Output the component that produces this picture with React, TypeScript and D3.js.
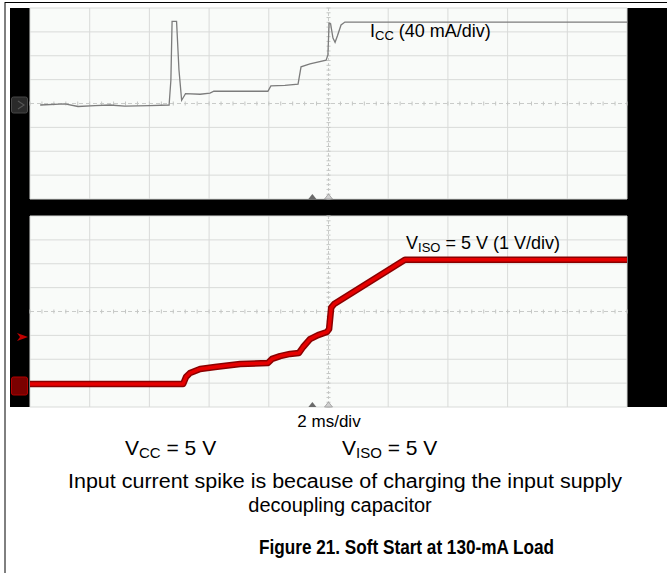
import React from 'react';
import * as d3 from 'd3';

const W = 667, H = 573;

// I_CC trace: time (ms from left edge of screen), current (mA)
const icTime = [0.34, 1.17, 1.61, 2.18, 2.68, 3.18, 4.02, 4.66, 4.72, 4.76, 4.91, 4.99, 5.08, 5.14, 5.21, 5.7, 6.03, 6.16, 7.04, 7.97, 8.07, 8.54, 8.98, 9.08, 9.38, 9.92, 9.98, 10.02, 10.07, 10.15, 10.22, 10.3, 10.42, 10.55, 20];
const icValue = [0, 2, -2.5, -1, 0, -2, -1, 0, 42, 140, 140, 59, 8, 13, 19, 18, 20, 23, 23, 23, 32, 33, 35, 64, 69, 75, 84, 137, 136, 112, 105, 116, 134, 139, 139];

// V_ISO trace: time (ms), voltage (V)
const vTime = [0, 5.13, 5.23, 5.36, 5.7, 6.2, 7.04, 7.97, 8.11, 8.38, 8.71, 9.01, 9.15, 9.38, 9.65, 9.95, 10.02, 10.09, 10.19, 12.56, 20];
const vValue = [0, 0, 0.3, 0.46, 0.63, 0.71, 0.84, 0.88, 1.05, 1.17, 1.26, 1.3, 1.55, 1.88, 2.05, 2.18, 2.3, 3.2, 3.35, 5.2, 5.2];

const xDivs = d3.range(0, 11);
const yDivs = d3.range(0, 9);

const font = 'Liberation Sans, Arial, Helvetica, sans-serif';

const plotL = 30, plotR = 627;
const plots = [{ top: 8, bottom: 199 }, { top: 216, bottom: 407 }];

const Grid = ({ top, bottom }: { top: number; bottom: number }) => {
  const gx = d3.scaleLinear().domain([0, 10]).range([plotL, plotR]);
  const gy = d3.scaleLinear().domain([0, 8]).range([top, bottom]);
  const cx = gx(5), cy = gy(4);
  const minorX = d3.range(0, 50.01, 1).map(d => gx(d / 5));
  const minorY = d3.range(0, 40.01, 1).map(d => gy(d / 5));
  return (
    <g>
      <rect x={plotL} y={top} width={plotR - plotL} height={bottom - top} fill="#f9fbf9" />
      {xDivs.filter(d => d !== 5).map(d => (
        <line key={'vx' + d} x1={gx(d)} x2={gx(d)} y1={top} y2={bottom} stroke="#d9dbd9" strokeWidth={1} />
      ))}
      {yDivs.filter(d => d !== 4).map(d => (
        <line key={'hy' + d} x1={plotL} x2={plotR} y1={gy(d)} y2={gy(d)} stroke="#d9dbd9" strokeWidth={1} />
      ))}
      <line x1={plotL} x2={plotR} y1={cy} y2={cy} stroke="#c9cbc9" strokeWidth={1} strokeDasharray="4 3" />
      <line x1={cx} x2={cx} y1={top} y2={bottom} stroke="#c9cbc9" strokeWidth={1} strokeDasharray="3 2" />
      {minorX.map((x, i) => (
        <line key={'mx' + i} x1={x} x2={x} y1={cy - 2} y2={cy + 2} stroke="#c4c6c4" strokeWidth={1} />
      ))}
      {minorY.map((y, i) => (
        <line key={'my' + i} x1={cx - 2} x2={cx + 2} y1={y} y2={y} stroke="#c4c6c4" strokeWidth={1} />
      ))}
      {/* trigger position markers */}
      <path d={`M${gx(4.73) - 4},${bottom} L${gx(4.73)},${bottom - 5} L${gx(4.73) + 4},${bottom} Z`} fill="#6a6a6a" />
      <path d={`M${cx - 4},${bottom} L${cx},${bottom - 5} L${cx + 4},${bottom} Z`} fill="#d0d0d0" stroke="#9a9a9a" strokeWidth={0.8} />
    </g>
  );
};

export default function App() {
  const x = d3.scaleLinear().domain([0, 20]).range([plotL, plotR]);
  const divPx = (plots[0].bottom - plots[0].top) / 8;
  const icZero = 105, vZero = 384;
  const yI = d3.scaleLinear().domain([0, 40]).range([icZero, icZero - divPx]);
  const yV = d3.scaleLinear().domain([0, 1]).range([vZero, vZero - divPx]);

  const icLine = d3.line<number>().x((d, i) => x(icTime[i])).y(d => yI(d));
  const vLine = d3.line<number>().x((d, i) => x(vTime[i])).y(d => yV(d));

  return (
    <svg width={W} height={H} style={{ position: 'absolute', left: 0, top: 0, display: 'block', background: '#fff' }}>
      <line x1={5} x2={W} y1={2.5} y2={2.5} stroke="#000" strokeWidth={1} />
      <line x1={5} x2={5} y1={2} y2={H} stroke="#000" strokeWidth={1} />

      <rect x={10} y={8} width={W - 10} height={399} fill="#000" />
      {plots.map((p, i) => <Grid key={i} top={p.top} bottom={p.bottom} />)}

      {/* channel markers */}
      <rect x={11.5} y={97} width={16} height={16} rx={2} fill="#2a2a2a" stroke="#474747" />
      <path d="M18,101 L24,105 L18,109" fill="none" stroke="#555" strokeWidth={1.2} />
      <path d="M17,333 L28,337 L17,341 L20,337 Z" fill="#c00000" />
      <rect x={11.5} y={377} width={16} height={18} rx={2} fill="#7a0000" stroke="#b00000" />

      <path d={icLine(icValue) || ''} fill="none" stroke="#7c7c7c" strokeWidth={1.3} />
      <path d={vLine(vValue) || ''} fill="none" stroke="#8a0000" strokeWidth={6.5} strokeLinejoin="round" />
      <path d={vLine(vValue) || ''} fill="none" stroke="#e60000" strokeWidth={3.5} strokeLinejoin="round" />

      <text x={370} y={37} fontFamily={font} fontSize={18} fill="#000">
        I<tspan fontSize={13} dy={3}>CC</tspan><tspan dy={-3}> (40 mA/div)</tspan>
      </text>
      <text x={406} y={249} fontFamily={font} fontSize={18} fill="#000">
        V<tspan fontSize={13} dy={3}>ISO</tspan><tspan dy={-3}> = 5 V (1 V/div)</tspan>
      </text>

      <text x={329} y={427} textAnchor="middle" fontFamily={font} fontSize={17} fill="#000">2 ms/div</text>
      <text x={125} y={455} fontFamily={font} fontSize={21} fill="#000">
        V<tspan fontSize={15} dy={3}>CC</tspan><tspan dy={-3}> = 5 V</tspan>
      </text>
      <text x={342} y={455} fontFamily={font} fontSize={21} fill="#000">
        V<tspan fontSize={15} dy={3}>ISO</tspan><tspan dy={-3}> = 5 V</tspan>
      </text>
      <text x={68} y={488} fontFamily={font} fontSize={20} fill="#000" textLength={554} lengthAdjust="spacingAndGlyphs">
        Input current spike is because of charging the input supply
      </text>
      <text x={340} y={512} textAnchor="middle" fontFamily={font} fontSize={20} fill="#000">
        decoupling capacitor
      </text>
      <text x={259} y={554} fontFamily={font} fontSize={20} fontWeight="bold" fill="#000" textLength={295} lengthAdjust="spacingAndGlyphs">
        Figure 21. Soft Start at 130-mA Load
      </text>
    </svg>
  );
}
